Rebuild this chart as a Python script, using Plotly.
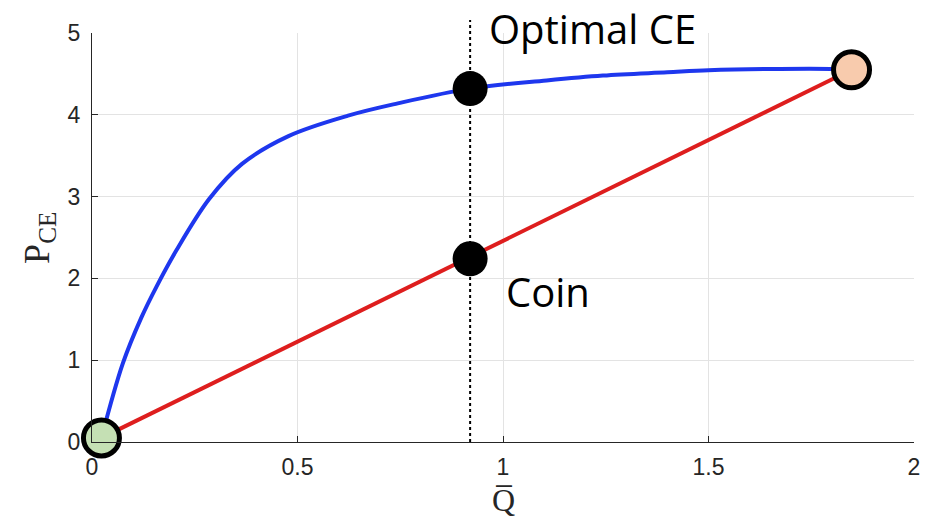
import plotly.graph_objects as go

# Curves of certainty-equivalent price versus mean quantity
q_optimal = [0.023, 0.075, 0.12, 0.157, 0.205, 0.285, 0.365, 0.478, 0.623, 0.744,
             0.92, 1.106, 1.243, 1.40, 1.50, 1.645, 1.81, 1.848]
p_optimal = [0.05, 0.96, 1.52, 1.90, 2.34, 2.97, 3.40, 3.74, 3.99, 4.14,
             4.32, 4.42, 4.48, 4.52, 4.545, 4.56, 4.56, 4.55]

q_coin = [0.023, 1.848]
p_coin = [0.05, 4.55]

# Endpoints and the two highlighted operating points
start_q, start_p = 0.023, 0.05
end_q, end_p = 1.848, 4.55
ce_q = 0.92
ce_optimal_p = 4.32
ce_coin_p = 2.24

x_ticks = [0, 0.5, 1, 1.5, 2]
x_tick_text = ["0", "0.5", "1", "1.5", "2"]
y_ticks = [0, 1, 2, 3, 4, 5]
y_tick_text = ["0", "1", "2", "3", "4", "5"]
x_range = [0, 2]
y_range = [0, 5]

axis_col = "#262626"
grid_col = "#e3e3e3"
tick_font = dict(family="Arial, Liberation Sans, sans-serif", size=23, color=axis_col)

fig = go.Figure()

fig.add_trace(go.Scatter(x=q_coin, y=p_coin, mode="lines",
                         line=dict(color="rgb(222,30,30)", width=4),
                         hoverinfo="skip"))
fig.add_trace(go.Scatter(x=q_optimal, y=p_optimal, mode="lines",
                         line=dict(color="rgb(30,55,238)", width=4, shape="spline", smoothing=1.0),
                         hoverinfo="skip"))

# Dotted marker line at the chosen quantity, running a little above the axes
fig.add_shape(type="line", xref="x", yref="paper",
              x0=ce_q, x1=ce_q, y0=0, y1=1.032,
              line=dict(color="black", width=2, dash="dot"))

fig.add_trace(go.Scatter(x=[ce_q, ce_q], y=[ce_optimal_p, ce_coin_p], mode="markers",
                         marker=dict(color="black", size=35, line=dict(width=0)),
                         cliponaxis=False, hoverinfo="skip"))
fig.add_trace(go.Scatter(x=[start_q], y=[start_p], mode="markers",
                         marker=dict(color="#c5e0b4", size=36, line=dict(color="black", width=5)),
                         cliponaxis=False, hoverinfo="skip"))
fig.add_trace(go.Scatter(x=[end_q], y=[end_p], mode="markers",
                         marker=dict(color="#f8cbad", size=36, line=dict(color="black", width=5)),
                         cliponaxis=False, hoverinfo="skip"))

fig.add_annotation(x=0.962, y=1.012, xref="x", yref="paper", text="Optimal CE",
                   showarrow=False, xanchor="left", yanchor="middle",
                   font=dict(family="Open Sans", size=40, color="black"))
fig.add_annotation(x=1.003, y=1.84, xref="x", yref="y", text="Coin",
                   showarrow=False, xanchor="left", yanchor="middle",
                   font=dict(family="Open Sans", size=40, color="black"))

# Axis titles
fig.add_annotation(x=-0.064, y=0.5, xref="paper", yref="paper",
                   text="P<sub>CE</sub>", showarrow=False, textangle=-90,
                   xanchor="center", yanchor="middle",
                   font=dict(family="Liberation Serif", size=36, color=axis_col))
fig.add_annotation(x=0.5, y=-0.143, xref="paper", yref="paper",
                   text="Q\u0305", showarrow=False,
                   xanchor="center", yanchor="middle",
                   font=dict(family="Liberation Serif", size=32, color=axis_col))

fig.update_layout(
    width=928, height=524,
    margin=dict(l=92, r=8, t=33, b=82),
    paper_bgcolor="white", plot_bgcolor="white",
    showlegend=False,
    font=dict(family="Arial, Liberation Sans, sans-serif", size=23, color=axis_col),
    xaxis=dict(range=x_range, tickmode="array", tickvals=x_ticks, ticktext=x_tick_text,
               showgrid=True, gridcolor=grid_col, gridwidth=1,
               showline=True, linecolor=axis_col, linewidth=1,
               ticks="inside", ticklen=6, tickcolor=axis_col,
               ticklabelstandoff=4, tickfont=tick_font,
               zeroline=False, fixedrange=True),
    yaxis=dict(range=y_range, tickmode="array", tickvals=y_ticks, ticktext=y_tick_text,
               showgrid=True, gridcolor=grid_col, gridwidth=1,
               showline=True, linecolor=axis_col, linewidth=1,
               ticks="inside", ticklen=6, tickcolor=axis_col,
               ticklabelstandoff=6, tickfont=tick_font,
               zeroline=False, fixedrange=True),
)

fig.write_html("out.html")
